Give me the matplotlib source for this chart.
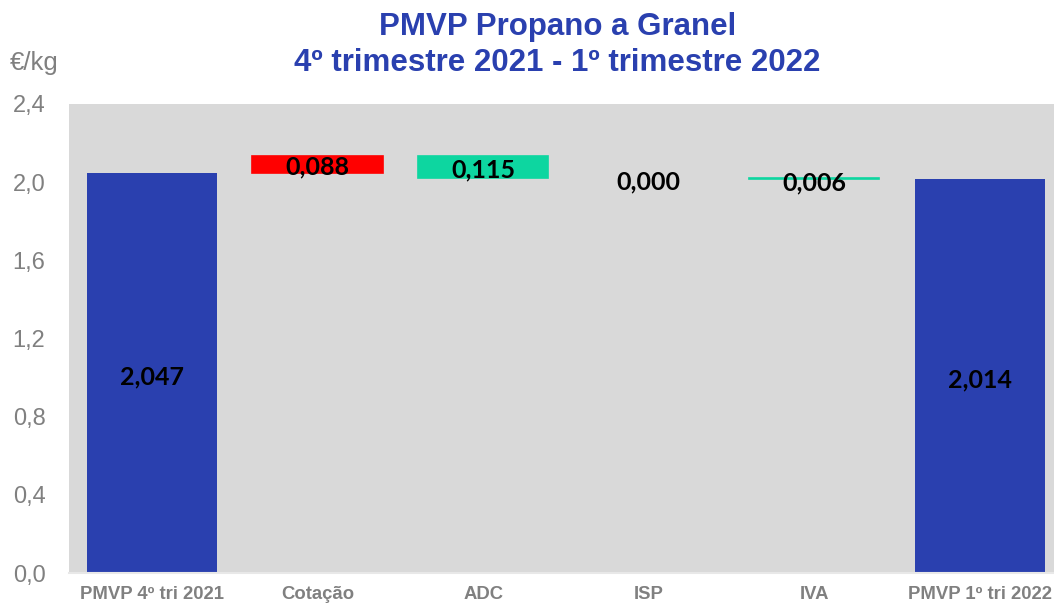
import matplotlib
matplotlib.use("Agg")
import matplotlib.pyplot as plt
from matplotlib import font_manager as fm

categories = ["PMVP 4º tri 2021", "Cotação", "ADC", "ISP", "IVA", "PMVP 1º tri 2022"]
start_value = 2.047
deltas = [0.088, -0.115, 0.000, -0.006]
end_value = 2.014
label_texts = ["2,047", "0,088", "0,115", "0,000", "0,006", "2,014"]
yticks = [0.0, 0.4, 0.8, 1.2, 1.6, 2.0, 2.4]
ytick_labels = ["0,0", "0,4", "0,8", "1,2", "1,6", "2,0", "2,4"]

names = {f.name for f in fm.fontManager.ttflist}
narrow = "Liberation Sans Narrow" if "Liberation Sans Narrow" in names else "Liberation Sans"
lab_font = "Lato" if "Lato" in names else "DejaVu Sans"

blue = "#2A40AF"
red = "#FF0000"
green = "#0DD6A0"
bg = "#D9D9D9"
gray = "#808080"

fig = plt.figure(figsize=(10.54, 6.04), dpi=100)
ax = fig.add_axes([0.0655, 0.0513, 0.943, 0.7767])
ax.set_facecolor(bg)

x = list(range(len(categories)))
w = 0.785
# totals
ax.bar(x[0], start_value, width=w, color=blue, zorder=2)
ax.bar(x[-1], end_value, width=w, color=blue, zorder=2)
# deltas
level = start_value
for i, d in enumerate(deltas, start=1):
    if d == 0:
        continue
    col = red if d > 0 else green
    lo = min(level, level + d)
    ax.bar(x[i], abs(d), bottom=lo, width=w, color=col, edgecolor=col,
           linewidth=1.2, zorder=2)
    level += d

# labels
ax.text(x[0], start_value / 2 - 0.02, label_texts[0], ha="center", va="center",
        fontsize=18, fontweight="bold", family=lab_font, color="black", zorder=3)
ax.text(x[-1], end_value / 2 - 0.02, label_texts[-1], ha="center", va="center",
        fontsize=18, fontweight="bold", family=lab_font, color="black", zorder=3)
level = start_value
for i, d in enumerate(deltas, start=1):
    mid = level + d / 2
    if abs(d) < 0.02:
        mid = level + d / 2 - 0.005
    ax.text(x[i], mid - 0.015, label_texts[i], ha="center", va="center",
            fontsize=18, fontweight="bold", family=lab_font, color="black", zorder=3)
    level += d

ax.set_xlim(-0.5, len(categories) - 0.5)
ax.set_ylim(0, 2.4)
ax.set_yticks(yticks)
ax.set_yticklabels(ytick_labels, family=narrow, fontsize=17, color=gray)
ax.set_xticks(x)
ax.set_xticklabels(categories, family=narrow, fontsize=13.3, fontweight="bold", color=gray)
ax.tick_params(axis="y", length=0, pad=17)
ax.tick_params(axis="x", length=0, pad=9)
for s in ["top", "right", "left"]:
    ax.spines[s].set_visible(False)
ax.spines["bottom"].set_color("#E8E8E8")
ax.spines["bottom"].set_linewidth(1.5)

fig.text(0.0095, 0.895, "€/kg", family=narrow, fontsize=18.5, color=gray, ha="left", va="center")
fig.text(0.529, 0.955, "PMVP Propano a Granel", family=narrow, fontsize=22.5,
         fontweight="bold", color=blue, ha="center", va="center")
fig.text(0.529, 0.896, "4º trimestre 2021 - 1º trimestre 2022", family=narrow, fontsize=22.5,
         fontweight="bold", color=blue, ha="center", va="center")

fig.savefig("out.png", dpi=100)
